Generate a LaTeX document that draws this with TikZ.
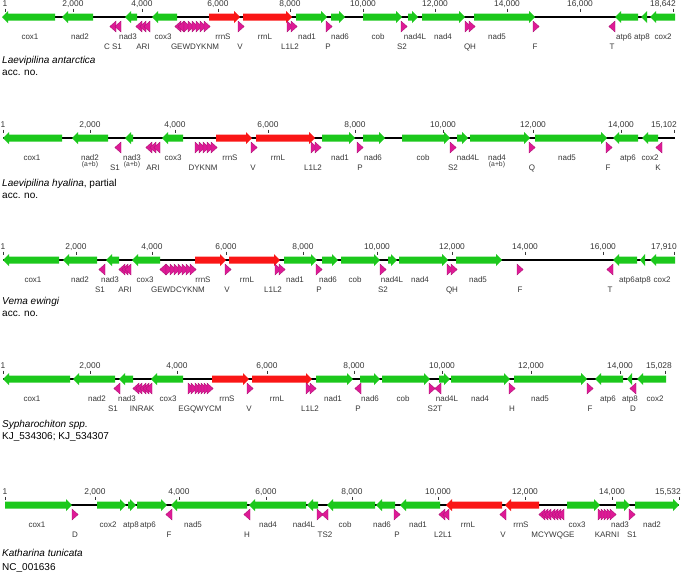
\documentclass[tikz,border=0pt]{standalone}
\usepackage{fontspec}
\setmainfont{Liberation Sans}
\definecolor{gG}{RGB}{28,200,28}
\definecolor{rR}{RGB}{250,22,22}
\definecolor{tM}{RGB}{222,26,150}
\definecolor{txt}{RGB}{55,55,55}
\newcounter{nn}
\tikzset{
 lab/.style={font=\fontsize{8}{9}\selectfont, text=txt, inner sep=0pt, text height=5.7pt, text depth=1.5pt},
 labs/.style={font=\fontsize{6.8}{7}\selectfont, text=txt, inner sep=0pt, text height=4.9pt, text depth=1.4pt},
 sc/.style={font=\fontsize{8.4}{9}\selectfont, text=txt, inner sep=0pt, text height=5.9pt, text depth=1.5pt},
 sp/.style={font=\fontsize{10}{12}\selectfont, anchor=west, inner sep=0pt, text height=7pt, text depth=2pt},
 trna/.style={fill=tM, draw=tM!75!black, line width=0.3pt},
 chrom/.style={line width=2pt, black},
 tickm/.style={line width=0.5pt, txt}
}
\newcommand\GR[3]{%
 \pgfmathsetmacro\hx{max(#1,#2-6)}%
 \fill[#3] (#1,\Ly-3.5) -- (\hx,\Ly-3.5) -- (\hx,\Ly-6) -- (#2,\Ly) -- (\hx,\Ly+6) -- (\hx,\Ly+3.5) -- (#1,\Ly+3.5) -- cycle;}
\newcommand\GL[3]{%
 \pgfmathsetmacro\hx{min(#2,#1+6)}%
 \fill[#3] (#2,\Ly-3.5) -- (\hx,\Ly-3.5) -- (\hx,\Ly-6) -- (#1,\Ly) -- (\hx,\Ly+6) -- (\hx,\Ly+3.5) -- (#2,\Ly+3.5) -- cycle;}
\newcommand\TR[1]{\filldraw[trna] (#1-3,\Ly+4) -- (#1+3.2,\Ly+9.5) -- (#1-3,\Ly+15) -- cycle;}
\newcommand\TL[1]{\filldraw[trna] (#1+3,\Ly+4) -- (#1-3.2,\Ly+9.5) -- (#1+3,\Ly+15) -- cycle;}
\newcommand\LA[2]{\stepcounter{nn}\node[lab] (n\arabic{nn}) at (#1,\Ly+20) {#2};}
\newcommand\LB[2]{\stepcounter{nn}\node[lab] (n\arabic{nn}) at (#1,\Ly+30) {#2};}
\newcommand\AB[1]{\stepcounter{nn}\node[labs] (n\arabic{nn}) at (#1,\Ly+27) {(a+b)};}
\newcommand\SC[2]{\stepcounter{nn}\node[sc] (n\arabic{nn}) at (#1,\Ly-13) {#2};\draw[tickm] (#1,\Ly-8.5) -- (#1,\Ly-5.5);}
\newcommand\SE[3]{\stepcounter{nn}\node[sc,anchor=east] (n\arabic{nn}) at (#2,\Ly-13) {#3};\draw[tickm] (#1,\Ly-8.5) -- (#1,\Ly-5.5);}
\newcommand\CH[2]{\draw[chrom] (#1,\Ly) -- (#2,\Ly);}
\begin{document}
\begin{tikzpicture}[x=1pt,y=-1pt]
\useasboundingbox (0,0) rectangle (685,576);
% ================= Track 1
\def\Ly{17}
\CH{3}{674}
\SC{5}{1}\SC{73}{2,000}\SC{142}{4,000}\SC{218}{6,000}\SC{290}{8,000}
\SC{363}{10,000}\SC{435}{12,000}\SC{507}{14,000}\SC{580}{16,000}\SE{673}{676}{18,642}
\GL{2}{55}{gG}\LA{30}{cox1}
\GL{62}{93}{gG}\LA{80}{nad2}
\TL{113}\TL{118}\LB{113}{C S1}
\GL{125}{137}{gG}\LA{128}{nad3}
\TL{139}\TL{143}\TL{147}\LB{143}{ARI}
\GL{152}{177}{gG}\LA{163}{cox3}
\TL{178}\TL{181}\TR{187}\TR{191}\TR{195}\TR{199}\TR{203}\TR{207}\LB{195}{GEWDYKNM}
\GR{209}{240}{rR}\LA{223}{rrnS}
\TR{241}\LB{240}{V}
\GR{243}{292}{rR}\LA{265}{rrnL}
\TR{290}\TR{294}\LB{290}{L1L2}
\GR{296}{327}{gG}\LA{307}{nad1}
\TR{329}\LB{328}{P}
\GR{331}{345}{gG}\LA{340}{nad6}
\GR{363}{402}{gG}\LA{378}{cob}
\TR{404}\LB{402}{S2}
\GR{408}{418}{gG}\LA{415}{nad4L}
\GR{422}{465}{gG}\LA{443}{nad4}
\TR{468}\TR{472}\LB{470}{QH}
\GR{474}{535}{gG}\LA{497}{nad5}
\TR{536}\LB{535}{F}
\TL{612}\LB{612}{T}
\GL{615}{638}{gG}\LA{624}{atp6}
\GL{641}{647}{gG}\LA{642}{atp8}
\GL{650}{675}{gG}\LA{663}{cox2}
\node[sp] (sp1) at (2,61) {\itshape Laevipilina antarctica};
\node[sp] (ac1) at (2,73) {acc. no.};
% ================= Track 2
\def\Ly{138}
\CH{3}{675}
\SC{3}{1}\SC{90}{2,000}\SC{175}{4,000}\SC{268}{6,000}\SC{355}{8,000}
\SC{443}{10,000}\SC{533}{12,000}\SC{621}{14,000}\SE{674}{677}{15,102}
\GL{3}{62}{gG}\LA{32}{cox1}
\GL{72}{108}{gG}\LA{90}{nad2}\AB{90}
\TL{118}\LB{115}{S1}
\GL{125}{133}{gG}\LA{132}{nad3}\AB{132}
\TL{149}\TL{153}\TL{157}\LB{153}{ARI}
\GL{162}{183}{gG}\LA{173}{cox3}
\TR{198}\TR{202}\TR{206}\TR{210}\TR{214}\LB{203}{DYKNM}
\GR{216}{252}{rR}\LA{230}{rrnS}
\TR{254}\LB{253}{V}
\GR{256}{315}{rR}\LA{278}{rrnL}
\TR{314}\TR{318}\LB{313}{L1L2}
\GR{322}{355}{gG}\LA{340}{nad1}
\TR{360}\LB{360}{P}
\GR{363}{385}{gG}\LA{373}{nad6}
\GR{402}{450}{gG}\LA{423}{cob}
\TR{453}\LB{453}{S2}
\GR{457}{468}{gG}\LA{468}{nad4L}
\GR{470}{530}{gG}\LA{497}{nad4}\AB{497}
\TR{532}\LB{532}{Q}
\GR{535}{607}{gG}\LA{567}{nad5}
\TR{609}\LB{608}{F}
\GL{613}{638}{gG}\LA{628}{atp6}
\GL{642}{658}{gG}\LA{650}{cox2}
\TL{659}\LB{658}{K}
\node[sp] (sp2) at (2,184) {\itshape Laevipilina hyalina\upshape, partial};
\node[sp] (ac2) at (2,196) {acc. no.};
% ================= Track 3
\def\Ly{260}
\CH{3}{675}
\SC{3}{1}\SC{76}{2,000}\SC{152}{4,000}\SC{226}{6,000}\SC{303}{8,000}
\SC{377}{10,000}\SC{452}{12,000}\SC{525}{14,000}\SC{603}{16,000}\SE{674}{677}{17,910}
\GL{3}{59}{gG}\LA{33}{cox1}
\GL{63}{97}{gG}\LA{80}{nad2}
\TL{102}\LB{100}{S1}
\GL{106}{119}{gG}\LA{110}{nad3}
\TL{122}\TL{125}\TL{128}\LB{125}{ARI}
\GL{132}{160}{gG}\LA{145}{cox3}
\TL{163}\TR{169}\TR{173}\TR{177}\TR{181}\TR{185}\TR{189}\TR{193}\LB{178}{GEWDCYKNM}
\GR{195}{226}{rR}\LA{203}{rrnS}
\TR{228}\LB{227}{V}
\GR{229}{280}{rR}\LA{247}{rrnL}
\TR{278}\TR{282}\LB{273}{L1L2}
\GR{284}{317}{gG}\LA{295}{nad1}
\TR{319}\LB{319}{P}
\GR{322}{338}{gG}\LA{328}{nad6}
\GR{341}{380}{gG}\LA{355}{cob}
\TR{383}\LB{383}{S2}
\GR{388}{397}{gG}\LA{392}{nad4L}
\GR{399}{448}{gG}\LA{420}{nad4}
\TR{450}\TR{454}\LB{452}{QH}
\GR{456}{502}{gG}\LA{478}{nad5}
\TR{520}\LB{520}{F}
\TL{610}\LB{610}{T}
\GL{613}{637}{gG}\LA{627}{atp6}
\GL{640}{645}{gG}\LA{643}{atp8}
\GL{650}{675}{gG}\LA{662}{cox2}
\node[sp] (sp3) at (2,302) {\itshape Vema ewingi};
\node[sp] (ac3) at (2,314) {acc. no.};
% ================= Track 4
\def\Ly{379}
\CH{3}{666}
\SC{3}{1}\SC{90}{2,000}\SC{177}{4,000}\SC{267}{6,000}\SC{354}{8,000}
\SC{442}{10,000}\SC{531}{12,000}\SC{620}{14,000}\SE{665}{672}{15,028}
\GL{3}{70}{gG}\LA{32}{cox1}
\GL{73}{115}{gG}\LA{97}{nad2}
\TL{117}\LB{113}{S1}
\GL{119}{133}{gG}\LA{127}{nad3}
\TL{136}\TL{139}\TL{143}\TL{146}\TL{149}\LB{142}{INRAK}
\GL{151}{183}{gG}\LA{168}{cox3}
\TR{191}\TR{194}\TR{198}\TR{201}\TR{204}\TR{207}\TR{210}\LB{200}{EGQWYCM}
\GR{212}{249}{rR}\LA{227}{rrnS}
\TR{250}\LB{249}{V}
\GR{252}{312}{rR}\LA{277}{rrnL}
\TR{309}\TR{313}\LB{310}{L1L2}
\GR{316}{353}{gG}\LA{333}{nad1}
\TL{358}\LB{358}{P}
\GR{360}{380}{gG}\LA{370}{nad6}
\GR{382}{430}{gG}\LA{403}{cob}
\TR{432}\TL{438}\LB{435}{S2T}
\GR{439}{450}{gG}\LA{447}{nad4L}
\GR{451}{510}{gG}\LA{480}{nad4}
\TR{512}\LB{512}{H}
\GR{514}{587}{gG}\LA{540}{nad5}
\TR{590}\LB{590}{F}
\GL{595}{623}{gG}\LA{608}{atp6}
\GL{627}{632}{gG}\LA{630}{atp8}
\TL{633}\LB{633}{D}
\GL{637}{666}{gG}\LA{655}{cox2}
\node[sp] (sp4) at (2,425) {\itshape Sypharochiton spp.};
\node[sp] (ac4) at (2,437) {KJ\_534306; KJ\_534307};
% ================= Track 5
\def\Ly{505}
\CH{5}{679}
\SC{5}{1}\SC{95}{2,000}\SC{179}{4,000}\SC{266}{6,000}\SC{352}{8,000}
\SC{438}{10,000}\SC{525}{12,000}\SC{612}{14,000}\SE{679}{681}{15,532}
\GR{5}{72}{gG}\LA{37}{cox1}
\TR{75}\LB{75}{D}
\GR{97}{126}{gG}\LA{108}{cox2}
\GR{128}{136}{gG}\LA{131}{atp8}
\GR{137}{167}{gG}\LA{148}{atp6}
\TL{169}\LB{169}{F}
\GL{171}{247}{gG}\LA{193}{nad5}
\TL{247}\LB{247}{H}
\GL{249}{306}{gG}\LA{268}{nad4}
\GL{307}{318}{gG}\LA{304}{nad4L}
\TR{320}\TL{325}\LB{325}{TS2}
\GL{327}{375}{gG}\LA{345}{cob}
\GL{376}{395}{gG}\LA{382}{nad6}
\TR{397}\LB{397}{P}
\GL{400}{440}{gG}\LA{418}{nad1}
\TL{442}\TL{446}\LB{443}{L2L1}
\GL{446}{502}{rR}\LA{468}{rrnL}
\TL{503}\LB{503}{V}
\GL{505}{539}{rR}\LA{521}{rrnS}
\TL{542}\TL{545}\TL{548}\TL{552}\TL{555}\TL{558}\TL{561}\LB{553}{MCYWQGE}
\GR{567}{600}{gG}\LA{577}{cox3}
\TR{601}\TR{604}\TR{607}\TR{610}\TR{613}\LB{607}{KARNI}
\GR{616}{630}{gG}\LA{620}{nad3}
\TR{632}\LB{632}{S1}
\GR{635}{679}{gG}\LA{652}{nad2}
\node[sp] (sp5) at (2,554) {\itshape Katharina tunicata};
\node[sp] (ac5) at (2,568) {NC\_001636};
\end{tikzpicture}
\end{document}
